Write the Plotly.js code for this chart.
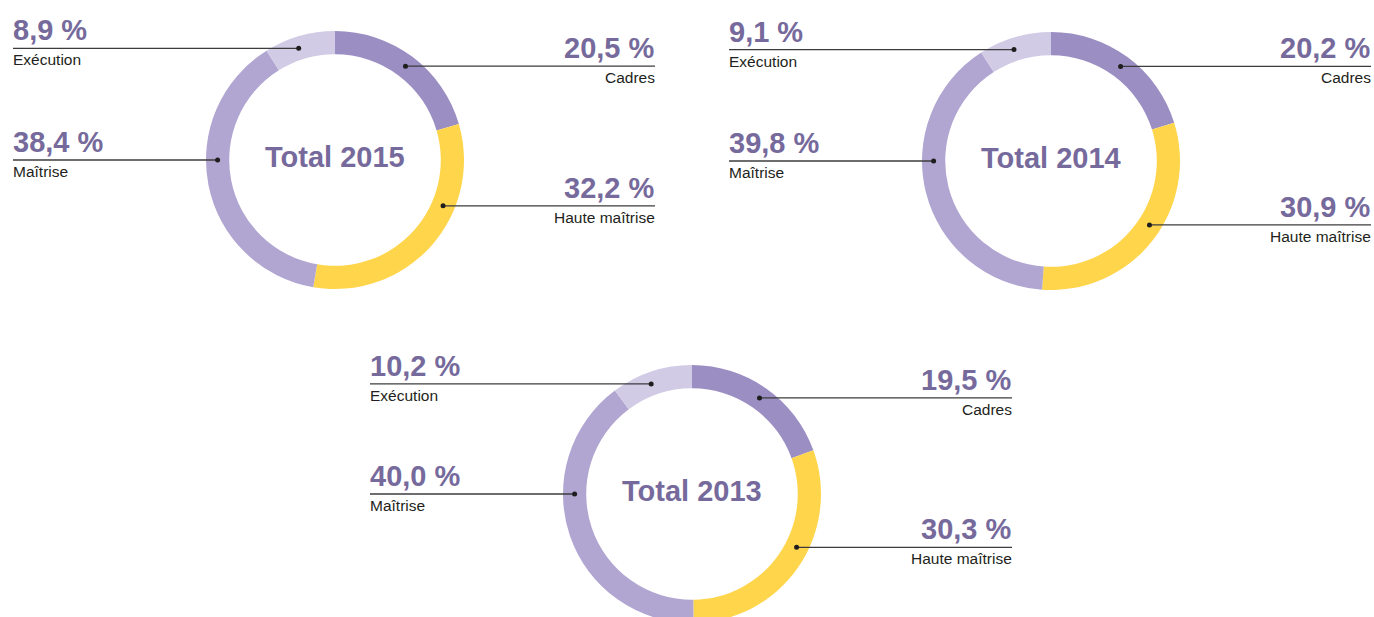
<!DOCTYPE html>
<html>
<head>
<meta charset="utf-8">
<script src="https://cdn.plot.ly/plotly-3.0.1.min.js"></script>
<style>
  html, body { margin: 0; padding: 0; overflow: hidden; background: #fff; }
</style>
</head>
<body>
<div id="chart"></div>
<script>
// categories, clockwise from 12 o'clock
var categories = ['Cadres', 'Haute maîtrise', 'Maîtrise', 'Exécution'];
var years = ['2015', '2014', '2013'];

// shares in %
var share2015 = [20.5, 32.2, 38.4, 8.9];
var share2014 = [20.2, 30.9, 39.8, 9.1];
var share2013 = [19.5, 30.3, 40.0, 10.2];
var shares = [share2015, share2014, share2013];

var colors = ['#9b8ec3', '#ffd54b', '#b1a5d1', '#d1cbe6'];

// page geometry (px) - the plot is a bit taller than the window so the last ring is cut
var W = 1374, H = 640;
var R = 129, HOLE = 0.82;
var centers = [[335, 160], [1051, 161], [692, 494]];
// leader angle for "Haute maîtrise" (deg clockwise from top), others derived
var hauteAngle = [113, 123, 117];
var labelSide = ['right', 'right', 'left', 'left'];

var purple = '#766a9c';
var sans = 'Liberation Sans, Arial, sans-serif';

function fmt(v) { return v.toFixed(1).replace('.', ',') + ' %'; }
function px(x) { return x / W; }
function py(y) { return 1 - y / H; }

var data = [];
var shapes = [];
var annotations = [];

for (var k = 0; k < years.length; k++) {
    var cx = centers[k][0], cy = centers[k][1];
    var vals = shares[k];

    data.push({
        type: 'pie',
        values: vals,
        labels: categories,
        sort: false,
        direction: 'clockwise',
        rotation: 0,
        hole: HOLE,
        textinfo: 'none',
        hoverinfo: 'skip',
        marker: { colors: colors, line: { width: 0 } },
        domain: {
            x: [px(cx - R), px(cx + R)],
            y: [py(cy + R), py(cy - R)]
        }
    });

    annotations.push({
        xref: 'paper', yref: 'paper',
        x: px(cx), y: py(cy - 3),
        xanchor: 'center', yanchor: 'middle',
        text: '<b>Total ' + years[k] + '</b>',
        showarrow: false,
        font: { family: sans, size: 29, color: purple }
    });

    // angle of each leader dot
    var total = vals.reduce(function (a, b) { return a + b; }, 0);
    var cum = 0;
    var angles = [];
    for (var i = 0; i < vals.length; i++) {
        angles.push((cum + vals[i] / 2) / total * 360);
        cum += vals[i];
    }
    angles[1] = hauteAngle[k];
    angles[2] = 270;
    angles[3] -= 2;

    var rMid = R * (1 + HOLE) / 2;
    for (var i = 0; i < categories.length; i++) {
        var a = angles[i] * Math.PI / 180;
        var dx = cx + rMid * Math.sin(a);
        var dy = cy - rMid * Math.cos(a);
        var right = labelSide[i] === 'right';
        var edge = right ? cx + 320 : cx - 322;
        var tx = right ? edge + 1 : edge - 1;

        shapes.push({
            type: 'line', xref: 'paper', yref: 'paper', layer: 'above',
            x0: px(dx), x1: px(edge), y0: py(dy), y1: py(dy),
            line: { color: '#3c3c3c', width: 1.3 }
        });
        shapes.push({
            type: 'circle', xref: 'paper', yref: 'paper', layer: 'above',
            x0: px(dx - 2.5), x1: px(dx + 2.5), y0: py(dy + 2.5), y1: py(dy - 2.5),
            fillcolor: '#1e1e1e', line: { width: 0 }
        });
        annotations.push({
            xref: 'paper', yref: 'paper',
            x: px(tx), y: py(dy - 1),
            xanchor: right ? 'right' : 'left', yanchor: 'bottom',
            borderpad: 0,
            text: '<b>' + fmt(vals[i]) + '</b>',
            showarrow: false,
            font: { family: sans, size: 29, color: purple }
        });
        annotations.push({
            xref: 'paper', yref: 'paper',
            x: px(tx), y: py(dy + 2),
            xanchor: right ? 'right' : 'left', yanchor: 'top',
            borderpad: 0,
            text: categories[i],
            showarrow: false,
            font: { family: sans, size: 15.5, color: '#231f20' }
        });
    }
}

var layout = {
    width: W,
    height: H,
    margin: { t: 0, r: 0, b: 0, l: 0 },
    paper_bgcolor: '#ffffff',
    showlegend: false,
    shapes: shapes,
    annotations: annotations
};

Plotly.newPlot('chart', data, layout, { staticPlot: true, displayModeBar: false });
</script>
</body>
</html>
